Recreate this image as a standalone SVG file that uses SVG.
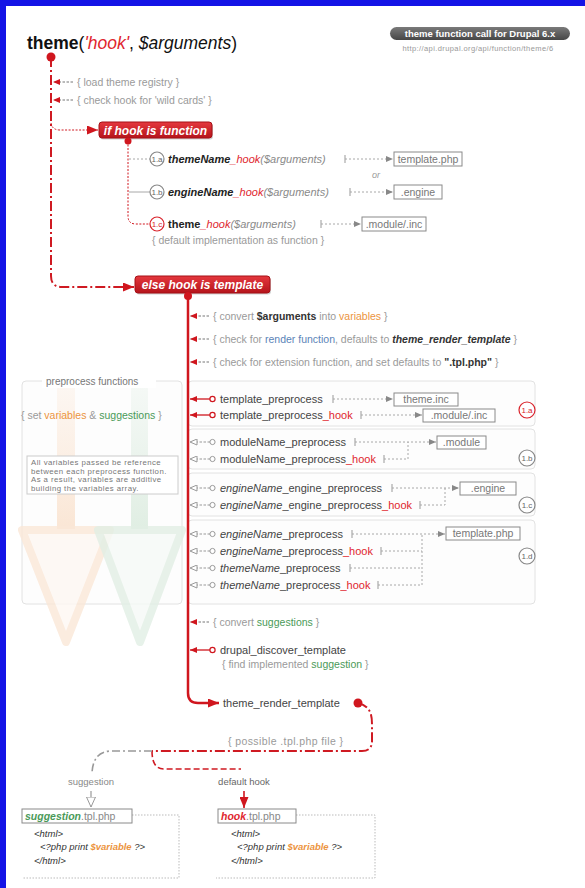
<svg xmlns="http://www.w3.org/2000/svg" width="585" height="888" viewBox="0 0 585 888">
<defs>
<style>
text{font-family:"Liberation Sans",Arial,sans-serif;}
.c{font-size:10.5px;fill:#9a9a9a;}
.li{font-size:11px;fill:#444;}
.fn{font-size:11px;fill:#222;}
.it{font-style:italic;}
.b{font-weight:bold;}
.red{fill:#e0262e;}
.or{fill:#ec9440;}
.gr{fill:#4a9a58;}
.bl{fill:#5b84b8;}
.dk{fill:#333;}
.gy{fill:#8a8a8a;}
.box{fill:#fff;stroke:#8a8a8a;stroke-width:1;}
.boxt{font-size:10.5px;fill:#777;text-anchor:middle;}
.tick{stroke:#999;stroke-width:1;fill:none;}
.dl{stroke:#a8a8a8;stroke-width:1;fill:none;stroke-dasharray:2 2;}
.sl{stroke:#a8a8a8;stroke-width:1;fill:none;}
.circ{fill:#fff;stroke:#888;stroke-width:1.2;}
.circr{fill:#fff;stroke:#d9232b;stroke-width:1.2;}
.cl{font-size:8px;fill:#666;text-anchor:middle;}
.clr{font-size:8px;fill:#d9232b;text-anchor:middle;}
.panel{fill:#fdfdfd;stroke:#e2e2e2;stroke-width:1;}
.rbox{fill:url(#rg);stroke:#a51016;stroke-width:1;}
.rsh{fill:#000;opacity:.18;}
.rbt{font-size:12px;font-weight:bold;font-style:italic;fill:#fff;text-anchor:middle;}
.cm{stroke:#777;stroke-width:1;fill:none;stroke-dasharray:2.5 1.5;}
.ra{stroke:#d0161e;stroke-width:1.3;fill:none;}
.ga{stroke:#999;stroke-width:1;fill:none;stroke-dasharray:2.5 1.5;}
.oo{fill:#fff;stroke:#999;stroke-width:1;}
.oor{fill:#fff;stroke:#d0161e;stroke-width:1.2;}
.code{font-size:9.5px;font-style:italic;fill:#333;}
.dot{stroke:#bbb;stroke-width:1;fill:none;stroke-dasharray:1.5 1.5;}
</style>
<linearGradient id="rg" x1="0" y1="0" x2="0" y2="1"><stop offset="0" stop-color="#e5383e"/><stop offset="1" stop-color="#b5141b"/></linearGradient>
<linearGradient id="pg" x1="0" y1="0" x2="0" y2="1"><stop offset="0" stop-color="#7a7a7a"/><stop offset="1" stop-color="#464646"/></linearGradient>
<linearGradient id="og" x1="0" y1="0" x2="0" y2="1"><stop offset="0" stop-color="#fbe9da" stop-opacity=".3"/><stop offset="1" stop-color="#fae6d5"/></linearGradient>
<linearGradient id="gg" x1="0" y1="0" x2="0" y2="1"><stop offset="0" stop-color="#e3efe6" stop-opacity=".3"/><stop offset="1" stop-color="#e0eee3"/></linearGradient>
<marker id="mR" markerWidth="11" markerHeight="9" refX="11" refY="4.5" orient="auto" markerUnits="userSpaceOnUse"><path d="M0,0 L11,4.5 L0,9 z" fill="#d0161e"/></marker>
<marker id="mRs" markerWidth="7" markerHeight="6" refX="7" refY="3" orient="auto" markerUnits="userSpaceOnUse"><path d="M0,0 L7,3 L0,6 z" fill="#d0161e"/></marker>
<marker id="mG" markerWidth="7" markerHeight="6" refX="7" refY="3" orient="auto" markerUnits="userSpaceOnUse"><path d="M0,0 L7,3 L0,6 z" fill="#888"/></marker>
<marker id="mH" markerWidth="8" markerHeight="7" refX="7.5" refY="3.5" orient="auto" markerUnits="userSpaceOnUse"><path d="M0.5,0.5 L7.5,3.5 L0.5,6.5 z" fill="#fff" stroke="#999" stroke-width="1"/></marker>
<marker id="mHb" markerWidth="11" markerHeight="10" refX="10.5" refY="5" orient="auto" markerUnits="userSpaceOnUse"><path d="M0.5,0.5 L10.5,5 L0.5,9.5 z" fill="#fff" stroke="#999" stroke-width="1"/></marker>
</defs>
<rect x="0" y="0" width="585" height="888" fill="#fff"/>
<g id="frame"><rect x="0" y="0" width="585" height="6" fill="#1414e6"/><rect x="0" y="0" width="6" height="888" fill="#1414e6"/></g>

<g id="title"><text x="27" y="49" font-size="17.5" fill="#111"><tspan class="b">theme</tspan>(<tspan class="it" fill="#e0262e">'hook'</tspan>, <tspan class="it">$arguments</tspan>)</text></g>
<g id="badge"><rect x="390" y="27" width="180" height="13" rx="6.5" fill="url(#pg)"/><text x="480" y="37" font-size="9.5" font-weight="bold" fill="#fff" text-anchor="middle">theme function call for Drupal 6.x</text><text x="478" y="51" font-size="7.5" fill="#999" text-anchor="middle" letter-spacing=".4">http://api.drupal.org/api/function/theme/6</text></g>

<g id="preprocess-panel">
<rect class="panel" x="22" y="381" width="160" height="223" rx="4"/>
<rect x="57" y="383" width="18" height="146" fill="url(#og)"/>
<polygon points="22,530 110,530 66,642" fill="#fef8f3" stroke="#fbe8d8" stroke-width="8" stroke-linejoin="round" opacity=".8"/>
<rect x="131" y="383" width="17" height="146" fill="url(#gg)"/>
<polygon points="98,530 182,530 140,642" fill="#f6faf7" stroke="#e2efe5" stroke-width="8" stroke-linejoin="round" opacity=".8"/>
<rect x="42" y="376" width="114" height="12" fill="#fff"/>
<text x="46" y="385" font-size="10" fill="#777">preprocess functions</text>
<text class="c" x="21" y="419" font-size="9.5"><tspan>{ set </tspan><tspan class="or">variables</tspan><tspan> &amp; </tspan><tspan class="gr">suggestions</tspan><tspan> }</tspan></text>
<rect x="27" y="456" width="151" height="38" fill="#fff" stroke="#ccc"/>
<text x="31" y="465" font-size="7.8" fill="#777" letter-spacing=".45">All variables passed be reference</text>
<text x="31" y="473.5" font-size="7.8" fill="#777" letter-spacing=".45">between each preprocess function.</text>
<text x="31" y="482" font-size="7.8" fill="#777" letter-spacing=".45">As a result, variables are additive</text>
<text x="31" y="490.5" font-size="7.8" fill="#777" letter-spacing=".45">building the variables array.</text>
</g>
<g id="group-1a"><rect class="panel" x="188" y="381" width="347" height="45" rx="4"/></g>
<g id="group-1b"><rect class="panel" x="188" y="429" width="347" height="40" rx="4"/></g>
<g id="group-1c"><rect class="panel" x="188" y="473" width="347" height="43" rx="4"/></g>
<g id="group-1d"><rect class="panel" x="188" y="520" width="347" height="84" rx="4"/></g>

<g id="connectors">
<path d="M51,57 L51,276 Q51,287 62,287 L134,287" stroke="#cf1a22" stroke-width="2" fill="none" stroke-dasharray="10 3 2 3" marker-end="url(#mR)"/>
<path class="cm" d="M73,82 L53,82" marker-end="url(#mRs)"/>
<path class="cm" d="M73,100 L53,100" marker-end="url(#mRs)"/>
<path d="M51,123 Q52,130 60,130 L98,130" stroke="#cf1a22" stroke-width="1" stroke-dasharray="2 1.5" fill="none" marker-end="url(#mR)"/>
<path d="M128,141 L128,216 Q128,224 136,224 L150,224" stroke="#d0161e" stroke-width="1" stroke-dasharray="2 1.5" fill="none"/>
<path class="dl" d="M129,159 L150,159"/>
<path class="sl" d="M129,192 L150,192"/>
<path class="tick" d="M345,155 L345,163"/><path class="dl" d="M345,159 L393,159" marker-end="url(#mG)"/>
<path class="tick" d="M350,188 L350,196"/><path class="dl" d="M350,192 L393,192" marker-end="url(#mG)"/>
<path class="tick" d="M321,220 L321,228"/><path class="dl" d="M321,224 L361,224" marker-end="url(#mG)"/>
<path d="M188,296 L188,693 Q188,703 198,703 L219,703" stroke="#d0161e" stroke-width="2.5" fill="none" marker-end="url(#mR)"/>
<path class="cm" d="M209,316 L190,316" marker-end="url(#mRs)"/>
<path class="cm" d="M209,339 L190,339" marker-end="url(#mRs)"/>
<path class="cm" d="M209,362 L190,362" marker-end="url(#mRs)"/>
<path class="cm" d="M209,622 L190,622" marker-end="url(#mRs)"/>
<path class="ra" d="M210,399 L190,399" marker-end="url(#mRs)"/><circle class="oor" cx="212.5" cy="399" r="2.6"/>
<path class="ra" d="M210,415 L190,415" marker-end="url(#mRs)"/><circle class="oor" cx="212.5" cy="415" r="2.6"/>
<path class="ga" d="M210,442 L190,442" marker-end="url(#mH)"/><circle class="oo" cx="212.5" cy="442" r="2.6"/>
<path class="ga" d="M210,459 L190,459" marker-end="url(#mH)"/><circle class="oo" cx="212.5" cy="459" r="2.6"/>
<path class="ga" d="M210,488 L190,488" marker-end="url(#mH)"/><circle class="oo" cx="212.5" cy="488" r="2.6"/>
<path class="ga" d="M210,505 L190,505" marker-end="url(#mH)"/><circle class="oo" cx="212.5" cy="505" r="2.6"/>
<path class="ga" d="M210,534 L190,534" marker-end="url(#mH)"/><circle class="oo" cx="212.5" cy="534" r="2.6"/>
<path class="ga" d="M210,551 L190,551" marker-end="url(#mH)"/><circle class="oo" cx="212.5" cy="551" r="2.6"/>
<path class="ga" d="M210,568 L190,568" marker-end="url(#mH)"/><circle class="oo" cx="212.5" cy="568" r="2.6"/>
<path class="ga" d="M210,585 L190,585" marker-end="url(#mH)"/><circle class="oo" cx="212.5" cy="585" r="2.6"/>
<path class="ra" d="M210,650 L190,650" marker-end="url(#mRs)"/><circle class="oor" cx="212.5" cy="650" r="2.6"/>
<path class="tick" d="M333,395 L333,403"/><path class="dl" d="M333,399 L393,399" marker-end="url(#mG)"/>
<path class="tick" d="M361,411 L361,419"/><path class="dl" d="M361,415 L422,415" marker-end="url(#mG)"/>
<path class="tick" d="M355,438 L355,446"/><path class="dl" d="M355,442 L436,442" marker-end="url(#mG)"/>
<path class="tick" d="M384,455 L384,463"/><path class="dl" d="M384,459 L408,459 L408,442"/>
<path class="tick" d="M392,484 L392,492"/><path class="dl" d="M392,488 L459,488" marker-end="url(#mG)"/>
<path class="tick" d="M420,501 L420,509"/><path class="dl" d="M420,505 L445,505 L445,488"/>
<path class="tick" d="M352,530 L352,538"/><path class="dl" d="M352,534 L445,534" marker-end="url(#mG)"/>
<path class="tick" d="M381,547 L381,555"/><path class="dl" d="M381,551 L422,551"/>
<path class="tick" d="M350,564 L350,572"/><path class="dl" d="M350,568 L422,568"/>
<path class="tick" d="M378,581 L378,589"/><path class="dl" d="M378,585 L422,585 L422,534"/>
<path d="M358,703 C370,706 372,714 372,724 L372,741 Q372,751 362,751 L152,751" stroke="#cf1a22" stroke-width="2" fill="none" stroke-dasharray="10 3 2 3"/>
<path d="M152,751 Q152,769 164,769 L241,769" stroke="#cf1a22" stroke-width="1.6" fill="none" stroke-dasharray="6 3"/>
<path d="M152,751 L110,751 Q93,752 92,773" stroke="#999" stroke-width="1.6" fill="none" stroke-dasharray="8 3 2 3"/>
<path d="M91,791 L91,807" stroke="#999" stroke-width="1.2" fill="none" marker-end="url(#mHb)"/>
<path d="M244,791 L244,808" stroke="#d0161e" stroke-width="1.6" fill="none" marker-end="url(#mR)"/>
<path class="dot" d="M132,815 L179,815 L179,878 L22,878"/>
<path class="dot" d="M296,815 L375,815 L375,878 L216,878"/>
</g>

<g id="theme-dot"><circle cx="51" cy="57" r="4.5" fill="#d0161e"/></g>
<g id="load-registry"><text class="c" x="77" y="85.5">{ load theme registry }</text></g>
<g id="check-wildcards"><text class="c" x="77" y="103.5">{ check hook for 'wild cards' }</text></g>

<g id="if-hook-function">
<rect class="rsh" x="100" y="123.5" width="113" height="16" rx="3"/>
<rect class="rbox" x="99" y="122" width="113" height="16" rx="3"/>
<text class="rbt" x="155.5" y="134.5">if hook is function</text>
<circle cx="128" cy="141" r="3.5" fill="#d0161e"/>
</g>
<g id="fn-1a">
<circle class="circ" cx="157" cy="159" r="7"/><text class="cl" x="157" y="161.8">1.a</text>
<text class="fn" x="168" y="163"><tspan class="b it">themeName</tspan><tspan class="red it">_hook</tspan><tspan class="gy it">($arguments)</tspan></text>
<rect class="box" x="394" y="152" width="68" height="14"/><text class="boxt" x="428" y="162.5">template.php</text>
</g>
<g id="or-label"><text x="372" y="178" font-size="9" fill="#999" font-style="italic">or</text></g>
<g id="fn-1b">
<circle class="circ" cx="157" cy="192" r="7"/><text class="cl" x="157" y="194.8">1.b</text>
<text class="fn" x="168" y="196"><tspan class="b it">engineName</tspan><tspan class="red it">_hook</tspan><tspan class="gy it">($arguments)</tspan></text>
<rect class="box" x="394" y="185" width="48" height="14"/><text class="boxt" x="418" y="195.5">.engine</text>
</g>
<g id="fn-1c">
<circle class="circr" cx="157" cy="224" r="7"/><text class="clr" x="157" y="226.8">1.c</text>
<text class="fn" x="168" y="228"><tspan class="b">theme</tspan><tspan class="red it">_hook</tspan><tspan class="gy it">($arguments)</tspan></text>
<rect class="box" x="362" y="217" width="64" height="14"/><text class="boxt" x="394" y="227.5">.module/.inc</text>
<text class="c" x="152" y="244">{ default implementation as function }</text>
</g>

<g id="else-hook-template">
<rect class="rsh" x="136" y="277.5" width="135" height="17" rx="3"/>
<rect class="rbox" x="135" y="276" width="135" height="17" rx="3"/>
<text class="rbt" x="202.5" y="288.5">else hook is template</text>
<circle cx="188" cy="296" r="4" fill="#d0161e"/>
</g>
<g id="convert-arguments"><text class="c" x="213" y="319.5">{ convert <tspan class="dk b">$arguments</tspan> into <tspan class="or">variables</tspan> }</text></g>
<g id="check-render"><text class="c" x="213" y="342.5">{ check for <tspan class="bl">render function</tspan>, defaults to <tspan class="dk b it">theme_render_template</tspan> }</text></g>
<g id="check-extension"><text class="c" x="213" y="365.5">{ check for extension function, and set defaults to <tspan class="dk b">".tpl.php"</tspan> }</text></g>

<g id="template-preprocess"><text class="li" x="220" y="403">template_preprocess</text><rect class="box" x="394" y="393" width="64" height="13"/><text class="boxt" x="426" y="403">theme.inc</text></g>
<g id="template-preprocess-hook"><text class="li" x="220" y="419">template_preprocess<tspan class="red">_hook</tspan></text><rect class="box" x="423" y="409" width="72" height="13"/><text class="boxt" x="459" y="419">.module/.inc</text></g>
<g id="circle-1a"><circle class="circr" cx="527" cy="410" r="8"/><text class="clr" x="527" y="413">1.a</text></g>
<g id="module-preprocess"><text class="li" x="220" y="446">moduleName_preprocess</text><rect class="box" x="437" y="436" width="49" height="13"/><text class="boxt" x="461.5" y="446">.module</text></g>
<g id="module-preprocess-hook"><text class="li" x="220" y="463">moduleName_preprocess<tspan class="red">_hook</tspan></text></g>
<g id="circle-1b"><circle class="circ" cx="527" cy="458" r="8"/><text class="cl" x="527" y="461">1.b</text></g>
<g id="engine-engine-preprocess"><text class="li" x="220" y="492"><tspan class="it">engineName</tspan>_engine_preprocess</text><rect class="box" x="460" y="482" width="56" height="13"/><text class="boxt" x="488" y="492">.engine</text></g>
<g id="engine-engine-preprocess-hook"><text class="li" x="220" y="509"><tspan class="it">engineName</tspan>_engine_preprocess<tspan class="red">_hook</tspan></text></g>
<g id="circle-1c"><circle class="circ" cx="527" cy="505" r="8"/><text class="cl" x="527" y="508">1.c</text></g>
<g id="engine-preprocess"><text class="li" x="220" y="538"><tspan class="it">engineName</tspan>_preprocess</text><rect class="box" x="446" y="527" width="74" height="13"/><text class="boxt" x="483" y="537">template.php</text></g>
<g id="engine-preprocess-hook"><text class="li" x="220" y="555"><tspan class="it">engineName</tspan>_preprocess<tspan class="red">_hook</tspan></text></g>
<g id="theme-preprocess"><text class="li" x="220" y="572"><tspan class="it">themeName</tspan>_preprocess</text></g>
<g id="theme-preprocess-hook"><text class="li" x="220" y="589"><tspan class="it">themeName</tspan>_preprocess<tspan class="red">_hook</tspan></text></g>
<g id="circle-1d"><circle class="circ" cx="527" cy="556" r="8"/><text class="cl" x="527" y="559">1.d</text></g>

<g id="convert-suggestions"><text class="c" x="213" y="625.5">{ convert <tspan class="gr">suggestions</tspan> }</text></g>
<g id="drupal-discover-template"><text class="li" x="220" y="654">drupal_discover_template</text><text class="c" x="222" y="668">{ find implemented <tspan class="gr">suggestion</tspan> }</text></g>
<g id="theme-render-template"><text class="li" x="223" y="707" fill="#4a5858">theme_render_template</text><circle cx="358" cy="703" r="4.5" fill="#d0161e"/></g>
<g id="possible-file"><text class="c" x="228" y="745" letter-spacing=".4">{ possible .tpl.php file }</text></g>
<g id="suggestion-label"><text x="91" y="785" font-size="9.5" fill="#888" text-anchor="middle">suggestion</text></g>
<g id="default-hook-label"><text x="244" y="785" font-size="9.5" fill="#666" text-anchor="middle">default hook</text></g>

<g id="suggestion-tpl">
<rect class="box" x="22" y="809" width="110" height="14"/>
<text x="25" y="820" font-size="10.5"><tspan class="gr b it">suggestion</tspan><tspan fill="#888">.tpl.php</tspan></text>
<text class="code" x="34" y="837">&lt;html&gt;</text>
<text class="code" x="40" y="850">&lt;?php print <tspan class="or b">$variable</tspan> ?&gt;</text>
<text class="code" x="34" y="864">&lt;/html&gt;</text>
</g>
<g id="hook-tpl">
<rect class="box" x="218" y="809" width="78" height="14"/>
<text x="221" y="820" font-size="10.5"><tspan class="red b it">hook</tspan><tspan fill="#888">.tpl.php</tspan></text>
<text class="code" x="231" y="837">&lt;html&gt;</text>
<text class="code" x="237" y="850">&lt;?php print <tspan class="or b">$variable</tspan> ?&gt;</text>
<text class="code" x="231" y="864">&lt;/html&gt;</text>
</g>
</svg>
